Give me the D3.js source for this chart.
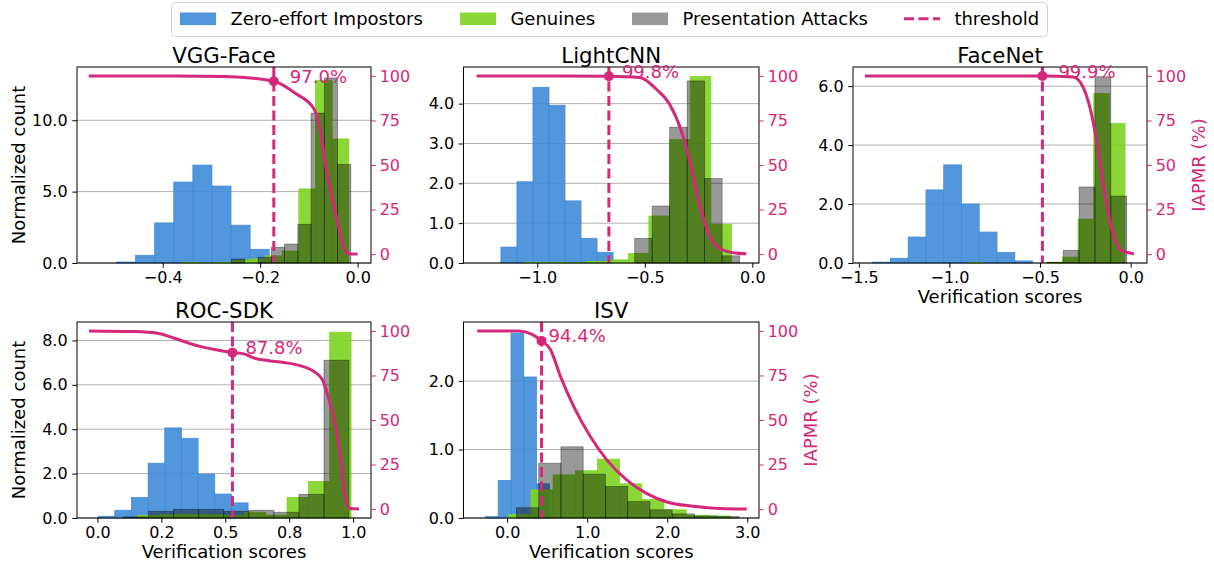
<!DOCTYPE html>
<html><head><meta charset="utf-8">
<script src="https://cdn.jsdelivr.net/npm/d3@7"></script>
<style>
body{margin:0;background:#fff}
svg{display:block}
text{font-family:"DejaVu Sans",sans-serif}
</style></head><body>
<svg id="chart" width="1214" height="561"></svg>
<script>
// ---------- shared ----------
const legendLabels = ["Zero-effort Impostors", "Genuines", "Presentation Attacks", "threshold"];
const iapmrTicks = [0, 25, 50, 75, 100];
const iapmrDomain = [-5, 105];

// ---------- VGG-Face ----------
const vggTitle = "VGG-Face";
const vggXDomain = [-0.576, 0.0275];
const vggYMax = 13.73;
const vggXTicks = [-0.4, -0.2, 0.0];
const vggYTicks = [0, 5, 10];
const vggImpBins = [-0.495, 0.0392];      // [first edge, bin width]
const vggImpCounts = [0.07, 0.54, 2.81, 5.67, 6.86, 5.39, 2.65, 0.96];
const vggGenBins = [-0.360, 0.0342];
const vggGenCounts = [0.05, 0.02, 0.05, 0.2, 0.28, 0.5, 0.84, 5.19, 12.8, 8.69];
const vggAttBins = [-0.2587, 0.0272];
const vggAttCounts = [0.28, 0, 0.4, 1.1, 1.33, 2.71, 10.5, 12.96, 6.9];
const vggCurveX = [-0.552, -0.40, -0.271, -0.172, -0.127, -0.0897, -0.076, -0.0657, -0.052, -0.038, -0.0246, -0.0144, 0.0];
const vggCurveY = [100, 100, 99.7, 97.0, 90.1, 81.6, 68.5, 49.8, 31.1, 14.3, 1.2, 0, 0];
const vggThreshold = -0.172;
const vggIapmr = 97.0;

// ---------- LightCNN ----------
const lcnnTitle = "LightCNN";
const lcnnXDomain = [-1.343, 0.031];
const lcnnYMax = 4.92;
const lcnnXTicks = [-1.0, -0.5, 0.0];
const lcnnYTicks = [0, 1, 2, 3, 4];
const lcnnImpBins = [-1.169, 0.0745];
const lcnnImpCounts = [0.40, 2.04, 4.41, 3.96, 1.56, 0.62, 0.27];
const lcnnGenBins = [-1.057, 0.096];
const lcnnGenCounts = [0.02, 0.02, 0.01, 0.04, 0.08, 0.24, 1.18, 3.10, 4.68, 0.97];
const lcnnAttBins = [-0.547, 0.0813];
const lcnnAttCounts = [0.62, 1.43, 3.41, 4.57, 2.12, 0.18];
const lcnnCurveX = [-1.282, -0.9, -0.667, -0.523, -0.446, -0.384, -0.33, -0.291, -0.253, -0.214, -0.167, -0.090, -0.028];
const lcnnCurveY = [100, 100, 99.8, 99.1, 92.5, 84, 69.1, 52.2, 31.6, 14.8, 4.5, 0.8, 0.2];
const lcnnThreshold = -0.667;
const lcnnIapmr = 99.8;

// ---------- FaceNet ----------
const fnTitle = "FaceNet";
const fnXDomain = [-1.532, 0.090];
const fnYMax = 6.65;
const fnXTicks = [-1.5, -1.0, -0.5, 0.0];
const fnYTicks = [0, 2, 4, 6];
const fnImpBins = [-1.424, 0.0981];
const fnImpCounts = [0.03, 0.16, 0.88, 2.48, 3.33, 2.0, 1.05, 0.36, 0.07];
const fnGenBins = [-0.896, 0.0865];
const fnGenCounts = [0.02, 0, 0, 0, 0, 0.03, 0.2, 1.49, 5.75, 4.73];
const fnAttBins = [-0.897, 0.0875];
const fnAttCounts = [0, 0, 0, 0, 0, 0.02, 0.43, 2.58, 6.32, 2.27];
const fnCurveX = [-1.466, -1.0, -0.487, -0.317, -0.262, -0.225, -0.188, -0.160, -0.133, -0.096, -0.050, 0.018];
const fnCurveY = [100, 100, 99.9, 99.4, 93.6, 82.3, 63.6, 44.9, 28.1, 11.2, 1.9, 0.2];
const fnThreshold = -0.487;
const fnIapmr = 99.9;

// ---------- ROC-SDK ----------
const rocTitle = "ROC-SDK";
const rocXDomain = [-0.08, 1.07];
const rocYMax = 8.83;
const rocXTicks = [0, 0.25, 0.5, 0.75, 1.0];
const rocXTickLabels = ["0.0", "0.2", "0.5", "0.8", "1.0"];
const rocYTicks = [0, 2, 4, 6, 8];
const rocImpBins = [0.0025, 0.0652];
const rocImpCounts = [0.08, 0.35, 0.93, 2.47, 4.06, 3.59, 1.98, 1.08, 0.68];
const rocGenBins = [0.157, 0.0835];
const rocGenCounts = [0.12, 0.15, 0.17, 0.15, 0.12, 0.26, 0.13, 0.93, 1.65, 8.37];
const rocAttBins = [0.004, 0.098];
const rocAttCounts = [0, 0.05, 0.3, 0.39, 0.39, 0.3, 0.35, 0.26, 1.07, 7.11];
const rocCurveX = [-0.033, 0.143, 0.235, 0.30, 0.404, 0.469, 0.528, 0.573, 0.613, 0.665, 0.730, 0.795, 0.847, 0.880, 0.906, 0.932, 0.952, 0.965, 0.978, 0.988, 1.023];
const rocCurveY = [100, 99.6, 98.7, 95.9, 91.2, 89.3, 87.8, 87.1, 84.7, 83.4, 82.3, 80.4, 77.2, 72.6, 61.3, 46, 27, 10, 2, 0.3, 0];
const rocThreshold = 0.528;
const rocIapmr = 87.8;

// ---------- ISV ----------
const isvTitle = "ISV";
const isvXDomain = [-0.545, 3.146];
const isvYMax = 2.863;
const isvXTicks = [0, 1, 2, 3];
const isvYTicks = [0, 1, 2];
const isvImpBins = [-0.272, 0.16];
const isvImpCounts = [0.02, 0.55, 2.70, 2.06, 0.50];
const isvGenBins = [0.02, 0.277];
const isvGenCounts = [0.05, 0.41, 0.63, 0.69, 0.86, 0.50, 0.27, 0.12, 0.04, 0.03];
const isvAttBins = [0.116, 0.278];
const isvAttCounts = [0.15, 0.80, 1.04, 0.64, 0.46, 0.24, 0.12, 0.06, 0.03, 0.02];
const isvCurveX = [-0.374, 0.145, 0.312, 0.43, 0.540, 0.665, 0.831, 1.039, 1.247, 1.496, 1.746, 1.995, 2.327, 2.66, 2.993];
const isvCurveY = [100, 100, 98.1, 94.4, 89.6, 74.6, 57.6, 40.7, 27.5, 16.3, 8.7, 4.0, 1.6, 0.3, 0];
const isvThreshold = 0.43;
const isvIapmr = 94.4;

// ---------- styles / layout ----------
const PINK = "#d6287a";
const BLUE = "#3f8bd8", GREEN = "#7ed321";
const fmt1 = d3.format(".1f");

const panels = [
  {title: vggTitle, xDomain: vggXDomain, yMax: vggYMax, xTicks: vggXTicks, yTicks: vggYTicks,
   imp: [vggImpBins, vggImpCounts], gen: [vggGenBins, vggGenCounts], att: [vggAttBins, vggAttCounts],
   cx: vggCurveX, cy: vggCurveY, thr: vggThreshold, iapmr: vggIapmr,
   box: {left: 77, right: 371, top: 67, bottom: 263}, ylab: true, xlab: false, rlab: false, ldx: 16},
  {title: lcnnTitle, xDomain: lcnnXDomain, yMax: lcnnYMax, xTicks: lcnnXTicks, yTicks: lcnnYTicks,
   imp: [lcnnImpBins, lcnnImpCounts], gen: [lcnnGenBins, lcnnGenCounts], att: [lcnnAttBins, lcnnAttCounts],
   cx: lcnnCurveX, cy: lcnnCurveY, thr: lcnnThreshold, iapmr: lcnnIapmr,
   box: {left: 463.5, right: 759, top: 67, bottom: 263}, ylab: false, xlab: false, rlab: false, ldx: 13},
  {title: fnTitle, xDomain: fnXDomain, yMax: fnYMax, xTicks: fnXTicks, yTicks: fnYTicks,
   imp: [fnImpBins, fnImpCounts], gen: [fnGenBins, fnGenCounts], att: [fnAttBins, fnAttCounts],
   cx: fnCurveX, cy: fnCurveY, thr: fnThreshold, iapmr: fnIapmr,
   box: {left: 853, right: 1147, top: 67, bottom: 263}, ylab: false, xlab: true, rlab: true, ldx: 16},
  {title: rocTitle, xDomain: rocXDomain, yMax: rocYMax, xTicks: rocXTicks, yTicks: rocYTicks, xLabels: rocXTickLabels,
   imp: [rocImpBins, rocImpCounts], gen: [rocGenBins, rocGenCounts], att: [rocAttBins, rocAttCounts],
   cx: rocCurveX, cy: rocCurveY, thr: rocThreshold, iapmr: rocIapmr,
   box: {left: 77, right: 371, top: 322, bottom: 518}, ylab: true, xlab: true, rlab: false, ldx: 13},
  {title: isvTitle, xDomain: isvXDomain, yMax: isvYMax, xTicks: isvXTicks, yTicks: isvYTicks,
   imp: [isvImpBins, isvImpCounts], gen: [isvGenBins, isvGenCounts], att: [isvAttBins, isvAttCounts],
   cx: isvCurveX, cy: isvCurveY, thr: isvThreshold, iapmr: isvIapmr,
   box: {left: 463.5, right: 759, top: 322, bottom: 518}, ylab: false, xlab: true, rlab: true, ldx: 7}
];

const svg = d3.select("#chart");

function styleAxis(sel, color) {
  sel.select(".domain").remove();
  sel.selectAll("line").attr("stroke", color).attr("stroke-width", 1);
  sel.selectAll("text").attr("fill", color).attr("font-size", 16).attr("font-family", "DejaVu Sans");
}

panels.forEach(p => {
  const b = p.box;
  const x = d3.scaleLinear().domain(p.xDomain).range([b.left, b.right]);
  const y = d3.scaleLinear().domain([0, p.yMax]).range([b.bottom, b.top]);
  const y2 = d3.scaleLinear().domain(iapmrDomain).range([b.bottom, b.top]);
  const g = svg.append("g");

  // grid
  g.append("g").selectAll("line").data(p.yTicks).enter().append("line")
    .attr("x1", b.left).attr("x2", b.right)
    .attr("y1", v => y(v)).attr("y2", v => y(v))
    .attr("stroke", "#b0b0b0").attr("stroke-width", 1);

  const hist = (spec, color, op) => {
    const [bins, counts] = spec;
    const data = counts.map((c, i) => ({a: bins[0] + i * bins[1], b: bins[0] + (i + 1) * bins[1], c}))
      .filter(e => e.c > 0);
    g.append("g").selectAll("rect").data(data).enter().append("rect")
      .attr("x", e => x(e.a)).attr("width", e => x(e.b) - x(e.a))
      .attr("y", e => y(e.c)).attr("height", e => y(0) - y(e.c))
      .attr("fill", color).attr("fill-opacity", op)
      .attr("stroke", color).attr("stroke-opacity", op).attr("stroke-width", 0.8);
  };
  hist(p.imp, BLUE, 0.9);
  hist(p.gen, GREEN, 0.9);
  hist(p.att, "#000", 0.4);

  // threshold
  g.append("line")
    .attr("x1", x(p.thr)).attr("x2", x(p.thr)).attr("y1", b.top).attr("y2", b.bottom)
    .attr("stroke", PINK).attr("stroke-width", 3).attr("stroke-dasharray", "10,4.5");

  // spines
  g.append("rect").attr("x", b.left).attr("y", b.top)
    .attr("width", b.right - b.left).attr("height", b.bottom - b.top)
    .attr("fill", "none").attr("stroke", "#000").attr("stroke-width", 1);

  // axes
  const ax = g.append("g").attr("transform", `translate(0,${b.bottom})`)
    .call(d3.axisBottom(x).tickValues(p.xTicks)
      .tickFormat((d, i) => p.xLabels ? p.xLabels[i] : fmt1(d))
      .tickSize(4.7).tickPadding(4.2));
  styleAxis(ax, "#000");
  const ay = g.append("g").attr("transform", `translate(${b.left},0)`)
    .call(d3.axisLeft(y).tickValues(p.yTicks).tickFormat(fmt1).tickSize(4.7).tickPadding(4.7));
  styleAxis(ay, "#000");

  // twin axis: IAPMR curve
  const pts = p.cx.map((v, i) => [v, p.cy[i]]);
  g.append("path").datum(pts)
    .attr("d", d3.line().x(d => x(d[0])).y(d => y2(d[1])).curve(d3.curveMonotoneX))
    .attr("fill", "none").attr("stroke", PINK).attr("stroke-width", 3).attr("stroke-linejoin", "round");
  g.append("circle").attr("cx", x(p.thr)).attr("cy", y2(p.iapmr)).attr("r", 5).attr("fill", PINK);
  g.append("text").attr("x", x(p.thr) + p.ldx).attr("y", y2(p.iapmr) + 1.5)
    .attr("fill", PINK).attr("font-size", 18).text(fmt1(p.iapmr) + "%");

  const ar = g.append("g").attr("transform", `translate(${b.right},0)`)
    .call(d3.axisRight(y2).tickValues(iapmrTicks).tickFormat(d3.format("d")).tickSize(4.7).tickPadding(4));
  styleAxis(ar, PINK);

  // titles / labels
  g.append("text").attr("x", (b.left + b.right) / 2).attr("y", b.top - 4)
    .attr("text-anchor", "middle").attr("font-size", 21.3).attr("fill", "#000").text(p.title);
  if (p.ylab) {
    g.append("text").attr("transform", `translate(${b.left - 52},${(b.top + b.bottom) / 2}) rotate(-90)`)
      .attr("text-anchor", "middle").attr("font-size", 18).attr("fill", "#000").text("Normalized count");
  }
  if (p.xlab) {
    g.append("text").attr("x", (b.left + b.right) / 2).attr("y", b.bottom + 40)
      .attr("text-anchor", "middle").attr("font-size", 18).attr("fill", "#000").text("Verification scores");
  }
  if (p.rlab) {
    g.append("text").attr("transform", `translate(${b.right + 58},${(b.top + b.bottom) / 2}) rotate(-90)`)
      .attr("text-anchor", "middle").attr("font-size", 18).attr("fill", PINK).text("IAPMR (%)");
  }
});

// ---------- legend ----------
const lg = svg.append("g");
lg.append("rect").attr("x", 171.5).attr("y", 2.5).attr("width", 876).attr("height", 34)
  .attr("rx", 4).attr("fill", "#fff").attr("stroke", "#d0d0d0").attr("stroke-width", 1);
const legendX = [180, 460, 632, 904];
const legendStyle = [[BLUE, 0.9], [GREEN, 0.9], ["#000", 0.4]];
legendLabels.forEach((lab, i) => {
  const lx = legendX[i];
  if (i < 3) {
    lg.append("rect").attr("x", lx).attr("y", 12.5).attr("width", 36).attr("height", 12.6)
      .attr("fill", legendStyle[i][0]).attr("fill-opacity", legendStyle[i][1]);
  } else {
    lg.append("line").attr("x1", lx).attr("x2", lx + 36).attr("y1", 18.8).attr("y2", 18.8)
      .attr("stroke", PINK).attr("stroke-width", 3).attr("stroke-dasharray", "10,4.5");
  }
  lg.append("text").attr("x", lx + 50.4).attr("y", 25).attr("font-size", 18).attr("fill", "#000").text(lab);
});
</script>
</body></html>
